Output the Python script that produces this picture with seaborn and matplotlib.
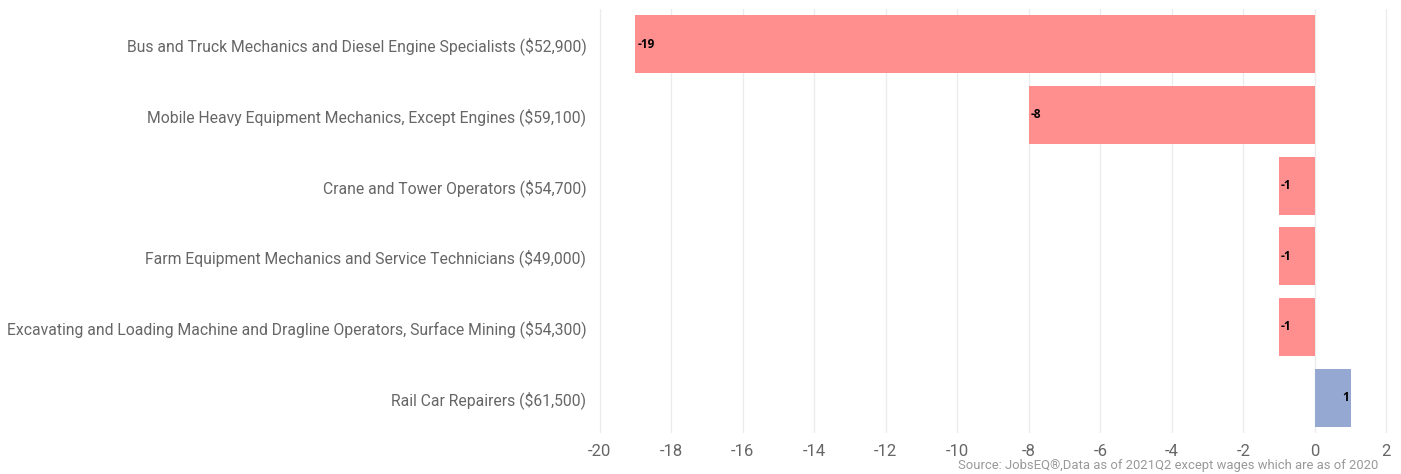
import seaborn as sns
import matplotlib.pyplot as plt
import pandas as pd

# Occupations and change values
occupations = [
    "Bus and Truck Mechanics and Diesel Engine Specialists ($52,900)",
    "Mobile Heavy Equipment Mechanics, Except Engines ($59,100)",
    "Crane and Tower Operators ($54,700)",
    "Farm Equipment Mechanics and Service Technicians ($49,000)",
    "Excavating and Loading Machine and Dragline Operators, Surface Mining ($54,300)",
    "Rail Car Repairers ($61,500)",
]
change = [-19, -8, -1, -1, -1, 1]
ticks = [-20, -18, -16, -14, -12, -10, -8, -6, -4, -2, 0, 2]

df = pd.DataFrame({"occupation": occupations, "change": change})
neg_color = "#FF8F8F"
pos_color = "#94A8D2"
palette = {o: (neg_color if v < 0 else pos_color) for o, v in zip(occupations, change)}

sns.set_style("white")
plt.rcParams["font.family"] = ["Roboto", "DejaVu Sans"]

fig = plt.figure(figsize=(14.01, 4.74), dpi=100)
ax = fig.add_axes([596 / 1401, 1 - 433 / 474, (1390 - 596) / 1401, (433 - 9) / 474])

sns.barplot(data=df, x="change", y="occupation", hue="occupation", palette=palette,
            orient="h", width=0.82, legend=False, saturation=1, linewidth=0, ax=ax)

# value labels inside bars at the outer end
for i, v in enumerate(change):
    if v < 0:
        ax.text(v + 0.05, i, f"{v}", ha="left", va="center", fontsize=8.5,
                fontweight="bold", color="black", family=["Open Sans", "DejaVu Sans"])
    else:
        ax.text(v - 0.05, i, f"{v}", ha="right", va="center", fontsize=8.5,
                fontweight="bold", color="black", family=["Open Sans", "DejaVu Sans"])

ax.set_xlim(-20.1, 2.1)
ax.set_ylim(5.5, -0.5)
ax.set_xticks(ticks)
ax.set_xticklabels([str(t) for t in ticks])
ax.grid(axis="x", color="#ececec", linewidth=1)
ax.set_axisbelow(True)
for s in ax.spines.values():
    s.set_visible(False)
ax.tick_params(axis="both", length=0, colors="#666666")
ax.tick_params(axis="x", labelsize=12, pad=8)
ax.tick_params(axis="y", labelsize=11.3, pad=7)
ax.set_xlabel("")
ax.set_ylabel("")

fig.text(1378 / 1401, 1 - 466 / 474, "Source: JobsEQ®,Data as of 2021Q2 except wages which are as of 2020",
         ha="right", va="center", fontsize=9.4, color="#999999")

plt.savefig("out.png", dpi=100)
print("Plot saved as out.png")
